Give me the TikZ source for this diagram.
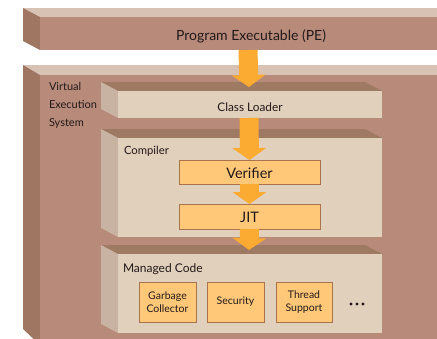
\documentclass[tikz,border=0pt]{standalone}
\usepackage{fontspec}
\setmainfont{Lato}
\usetikzlibrary{arrows.meta}
\definecolor{otopc}{RGB}{216,194,180}
\definecolor{ofrontc}{RGB}{183,138,122}
\definecolor{osidec}{RGB}{158,118,98}
\definecolor{itopc}{RGB}{158,122,98}
\definecolor{isidec}{RGB}{200,178,162}
\definecolor{ifrontc}{RGB}{224,208,188}
\definecolor{arrowc}{RGB}{251,170,50}
\definecolor{boxfill}{RGB}{255,200,120}
\definecolor{boxline}{RGB}{170,115,75}
\definecolor{txt}{RGB}{35,25,25}
\begin{document}
\begin{tikzpicture}[x=1pt,y=-1pt,
  every node/.style={text=txt,inner sep=0pt,outer sep=0pt},
  ofront/.style={fill=ofrontc,anchor=north west},
  ifront/.style={fill=ifrontc,anchor=north west},
  otop/.style={fill=otopc},
  oside/.style={fill=osidec},
  itop/.style={fill=itopc},
  iside/.style={fill=isidec},
  stage/.style={fill=boxfill,draw=boxline,line width=0.8pt,anchor=north west},
  lbl/.style={anchor=base},
  lbll/.style={anchor=base west},
  bigarrow/.style={draw=arrowc,line width=19pt,
    -{Triangle[width=34pt,length=12pt,line width=0pt]}},
  ]
\useasboundingbox (0,0) rectangle (437,338);
% ---- Program Executable block
\fill[otop] (23,8) -- (470,8) -- (470,17) -- (40,17) -- cycle;
\fill[oside] (23,8) -- (40,17) -- (40,50) -- (23,41) -- cycle;
\node[ofront,minimum width=418,minimum height=33] (pe) at (40,17) {};
\node[lbl,font=\fontsize{14}{16}\selectfont] (petxt) at (251,40.5) {Program Executable (PE)};
% ---- Virtual Execution System block
\fill[otop] (23,65) -- (470,65) -- (470,75) -- (40,75) -- cycle;
\fill[oside] (23,65) -- (40,75) -- (40,345) -- (23,329) -- cycle;
\node[ofront,minimum width=430,minimum height=270] (ves) at (40,75) {};
\node[font=\fontsize{11}{18.3}\selectfont,align=left,anchor=north west] (vestxt) at (49,82)
  {Virtual\\Execution\\System};
% ---- Class Loader
\fill[itop] (101,82) -- (365,82) -- (382,91) -- (118,91) -- cycle;
\fill[iside] (101,82) -- (118,91) -- (118,118) -- (101,109) -- cycle;
\node[ifront,minimum width=264,minimum height=27] (cl) at (118,91) {};
\node[lbl,font=\fontsize{11.8}{13}\selectfont] (cltxt) at (250,111.5) {Class Loader};
% ---- Compiler
\fill[itop] (101,129) -- (365,129) -- (382,138) -- (118,138) -- cycle;
\fill[iside] (101,129) -- (118,138) -- (118,237) -- (101,228) -- cycle;
\node[ifront,minimum width=264,minimum height=99] (comp) at (118,138) {};
\node[lbll,font=\fontsize{11.3}{13}\selectfont] (comptxt) at (124,154.5) {Compiler};
\node[stage,minimum width=141,minimum height=24] (ver) at (179,160) {};
\node[lbl,font=\fontsize{14.5}{16}\selectfont] (vertxt) at (249.5,178) {Verifier};
\node[stage,minimum width=141,minimum height=25] (jit) at (179,204) {};
\node[lbl,font=\fontsize{14.5}{16}\selectfont] (jittxt) at (249.5,222.5) {JIT};
% ---- Managed Code
\fill[itop] (101,245) -- (365,245) -- (382,254) -- (118,254) -- cycle;
\fill[iside] (101,245) -- (118,254) -- (118,333) -- (101,324) -- cycle;
\node[ifront,minimum width=264,minimum height=79] (mc) at (118,254) {};
\node[lbll,font=\fontsize{12}{13}\selectfont] (mctxt) at (123,272.5) {Managed Code};
\node[stage,minimum width=57,minimum height=40] (gc) at (139,282) {};
\node[font=\fontsize{10.5}{13}\selectfont,align=center] at (gc.center) {Garbage\\Collector};
\node[stage,minimum width=57,minimum height=40] (sec) at (207,282) {};
\node[font=\fontsize{10.5}{13}\selectfont] at (sec.center) {Security};
\node[stage,minimum width=56,minimum height=40] (ts) at (276,282) {};
\node[font=\fontsize{10.5}{13}\selectfont,align=center] at (ts.center) {Thread\\Support};
\foreach \xx in {351,357,363}
  \fill[txt] (\xx,304) circle (1.6);
% ---- arrows
\draw[bigarrow] ([xshift=-1pt]pe.south) -- ([xshift=-1pt,yshift=4pt]cl.north);
\draw[bigarrow] ([xshift=-1pt]cl.south) -- (ver.north);
\draw[bigarrow] (ver.south) -- (jit.north);
\draw[bigarrow] (jit.south) -- ([xshift=-1pt,yshift=4pt]mc.north);
\end{tikzpicture}
\end{document}
